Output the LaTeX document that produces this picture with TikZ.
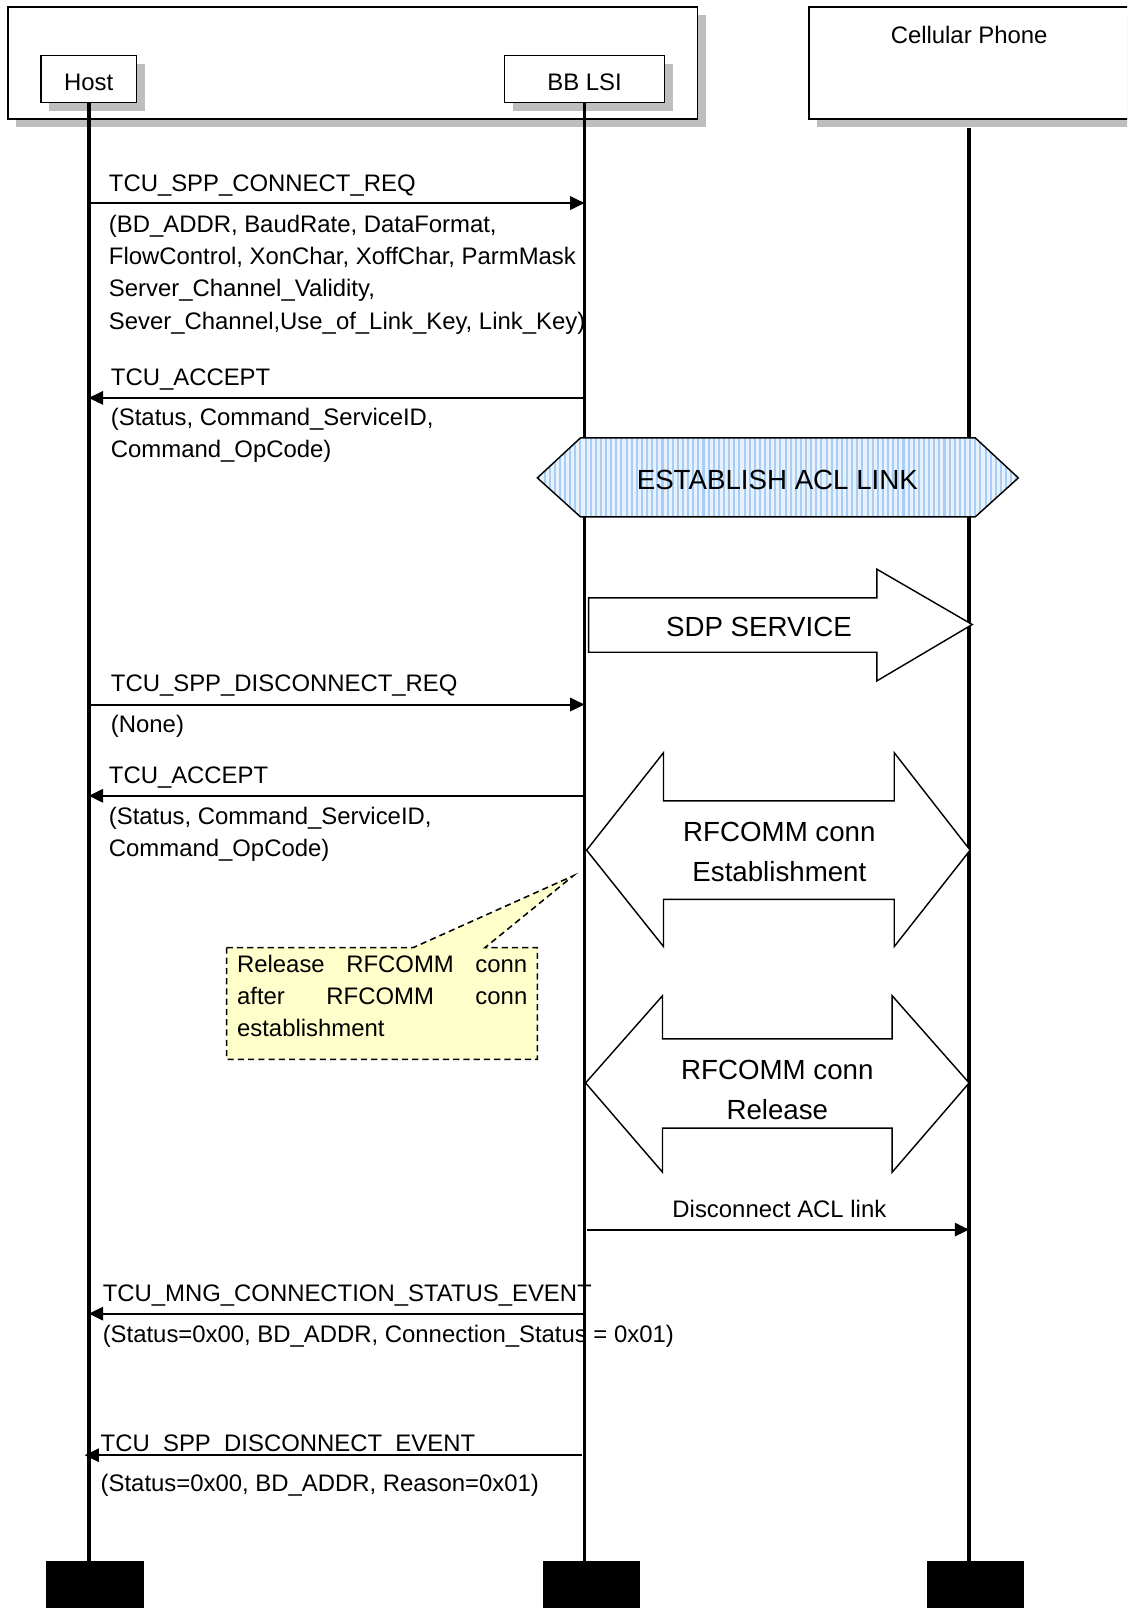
\documentclass[tikz,border=0pt]{standalone}
\usepackage{fontspec}
\setmainfont{Liberation Sans}
\usetikzlibrary{arrows.meta,calc,shadows}
\definecolor{shadowgray}{RGB}{190,190,190}
\definecolor{stripeblue}{RGB}{168,206,246}
\definecolor{stripebg}{RGB}{232,242,252}
\definecolor{noteyellow}{RGB}{255,255,204}

\begin{document}
\begin{tikzpicture}[x=1pt,y=-1pt,
  txt/.style={font=\fontsize{23.3}{31.4}\selectfont, inner sep=0pt},
  bigtxt/.style={font=\fontsize{27}{39}\selectfont, inner sep=0pt, align=center, anchor=base},
  lbl/.style={txt, anchor=base west},
  plist/.style={txt, anchor=base west, align=left},
  hdr/.style={draw=black, line width=1.6pt, fill=white, txt, text height=22pt, text depth=0pt,
    drop shadow={shadow xshift=8pt, shadow yshift=-8pt, fill=shadowgray, opacity=1}},
  life/.style={line width=3.6pt},
  msg/.style={line width=2pt, -{Triangle[length=14pt,width=13pt]}},
  blockarrow/.style={draw=black, line width=1.4pt, fill=white, line join=miter},
  endblock/.style={fill=black, draw=none, minimum width=95pt, minimum height=50pt, inner sep=0pt, anchor=north},
  note/.style={draw=black, line width=1.5pt, dash pattern=on 6pt off 4pt, fill=noteyellow},
]
\useasboundingbox (0,0) rectangle (1099,1568);
\clip (0,0) rectangle (1099,1568);

% ---------- header: participants ----------
\node[hdr, minimum width=672pt, minimum height=109pt] (grp) at (344,61.5) {};
\node[hdr, minimum width=93pt, minimum height=46pt] (host) at (86.5,77) {Host};
\node[hdr, minimum width=156pt, minimum height=46pt] (bb) at (570,77) {BB LSI};
\node[hdr, minimum width=312pt, minimum height=109pt] (phone) at (945,61.5) {};
\node[txt, anchor=base] (phoneLbl) at (945,42) {Cellular Phone};

% ---------- end markers ----------
\node[endblock] (hostEnd) at (92.5,1522) {};
\node[endblock] (bbEnd) at (576.5,1522) {};
\node[endblock] (phoneEnd) at (951.5,1522) {};

% ---------- message rows ----------
\coordinate (r1) at (0,198);
\coordinate (r2) at (0,388);
\coordinate (r3) at (0,687);
\coordinate (r4) at (0,776);
\coordinate (r5) at (0,1199);
\coordinate (r6) at (0,1281);
\coordinate (r7) at (0,1419);

% ---------- message labels (multi-line nodes sit on their last baseline) ----------
\node[lbl] (m1) at (106,187) {TCU\_SPP\_CONNECT\_REQ};
\node[plist] (m1p) at (106,321) {(BD\_ADDR, BaudRate, DataFormat,\\FlowControl, XonChar, XoffChar, ParmMask\\Server\_Channel\_Validity,\\Sever\_Channel,Use\_of\_Link\_Key, Link\_Key)};
\node[lbl] (m2) at (108,376) {TCU\_ACCEPT};
\node[plist] (m2p) at (108,446) {(Status, Command\_ServiceID,\\Command\_OpCode)};
\node[lbl] (m3) at (108,674) {TCU\_SPP\_DISCONNECT\_REQ};
\node[lbl] (m3p) at (108,714) {(None)};
\node[lbl] (m4) at (106,764) {TCU\_ACCEPT};
\node[plist] (m4p) at (106,835) {(Status, Command\_ServiceID,\\Command\_OpCode)};
\node[txt, anchor=base] (m5) at (760,1187) {Disconnect ACL link};
\node[lbl] (m6) at (100,1269) {TCU\_MNG\_CONNECTION\_STATUS\_EVENT};
\node[lbl] (m6p) at (100,1309) {(Status=0x00, BD\_ADDR, Connection\_Status = 0x01)};
\node[lbl] (m7) at (98,1415) {TCU\_SPP\_DISCONNECT\_EVENT};
\node[lbl] (m7p) at (98,1454) {(Status=0x00, BD\_ADDR, Reason=0x01)};

% ---------- message arrows ----------
\draw[msg] (host.south |- r1) -- (bb.south |- r1);
\draw[msg] (bb.south |- r2) -- (host.south |- r2);
\draw[msg] (host.south |- r3) -- (bb.south |- r3);
\draw[msg] (bb.south |- r4) -- (host.south |- r4);
\draw[msg] ($(bb.south |- r5)+(2,0)$) -- (phone.south |- r5);
\draw[msg] (bb.south |- r6) -- (host.south |- r6);
\draw[msg] ($(bb.south |- r7)+(-2,0)$) -- ($(host.south |- r7)+(-4,0)$);

% ---------- lifelines ----------
\draw[life] (host.south) -- (host.south |- hostEnd.north);
\draw[life] (bb.south) -- (bb.south |- bbEnd.north);
\draw[life] ($(phone.south)+(0,8)$) -- (phone.south |- phoneEnd.north);

% ---------- ACL link establishment (striped hexagon) ----------
\begin{scope}
  \clip (524,466) -- (566,427) -- (951,427) -- (993,466) -- (951,504) -- (566,504) -- cycle;
  \fill[stripebg] (520,420) rectangle (1000,510);
  \foreach \sx in {526,531,...,996}
    \draw[stripeblue, line width=2pt] (\sx,420) -- (\sx,510);
\end{scope}
\draw[line width=1.4pt, line join=miter] (524,466) -- (566,427) -- (951,427) -- (993,466) -- (951,504) -- (566,504) -- cycle;
\node[bigtxt] (acl) at (758,477) {ESTABLISH ACL LINK};

% ---------- SDP service arrow ----------
\draw[blockarrow] (574,583) -- (855,583) -- (855,555) -- (948,609) -- (855,664) -- (855,636) -- (574,636) -- cycle;
\node[bigtxt] (sdp) at (740,621) {SDP SERVICE};

% ---------- RFCOMM establishment ----------
\draw[blockarrow] (572,829) -- (647,734) -- (647,781) -- (872,781) -- (872,734) -- (946,829)
  -- (872,923) -- (872,877) -- (647,877) -- (647,923) -- cycle;
\node[bigtxt] (rfest) at (760,860) {RFCOMM conn\\Establishment};

% ---------- RFCOMM release ----------
\draw[blockarrow] (571,1056) -- (646,971) -- (646,1013) -- (870,1013) -- (870,971) -- (945,1056)
  -- (870,1143) -- (870,1100) -- (646,1100) -- (646,1143) -- cycle;
\node[bigtxt] (rfrel) at (758,1092) {RFCOMM conn\\Release};

% ---------- note ----------
\draw[note] (221,924) -- (403,924) -- (559,854) -- (473,924) -- (524,924) -- (524,1033) -- (221,1033) -- cycle;
\node[plist] (noteTxt) at (231,1011) {\makebox[283pt][s]{Release RFCOMM conn}\\\makebox[283pt][s]{after RFCOMM conn}\\establishment};
\end{tikzpicture}
\end{document}
